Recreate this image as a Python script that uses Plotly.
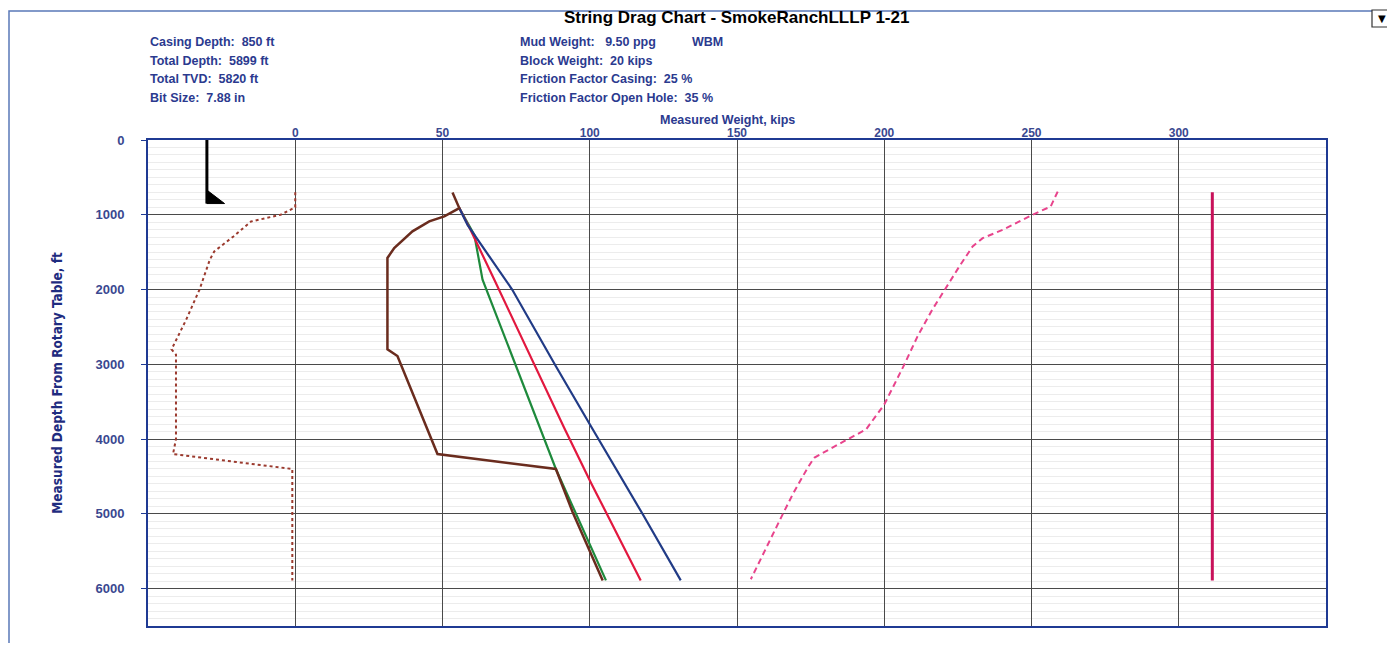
import plotly.graph_objects as go

# ---------------- data ----------------
x_ticks = [0, 50, 100, 150, 200, 250, 300]
y_ticks = [0, 1000, 2000, 3000, 4000, 5000, 6000]

# brown dashed curve (left)
brown_dash_x = [0, 0, -5, -15, -21, -27.5, -29, -32.5, -37, -42, -40.5, -40.5, -41.5, -1, -1]
brown_dash_md = [700, 900, 1000, 1090, 1290, 1490, 1600, 2000, 2400, 2800, 2870, 4000, 4200, 4400, 5890]

# brown solid curve
brown_x = [53.4, 55.7, 50.6, 45.5, 39.8, 33.6, 31.3, 31.3, 34.7, 44.3, 48.3, 88.5, 94.2, 104.4]
brown_md = [703, 911, 1022, 1089, 1222, 1444, 1578, 2800, 2890, 3823, 4200, 4400, 4978, 5890]

# green solid curve
green_x = [55.7, 60.8, 63.6, 83.0, 88.5, 105.5]
green_md = [911, 1268, 1869, 3849, 4400, 5890]

# red solid curve
red_x = [55.7, 59.5, 67.6, 91.3, 100.4, 117.3]
red_md = [911, 1200, 1869, 3849, 4583, 5890]

# blue solid curve
blue_x = [55.7, 58.5, 73.7, 88.5, 100.4, 118.0, 130.9]
blue_md = [911, 1135, 2003, 3026, 3828, 5006, 5890]

# pink dashed curve
pink_x = [258.9, 256.5, 250.3, 240.2, 233.4, 230.0, 225.5, 220.4, 216.3, 211.3, 206.8, 200.0,
          193.8, 186.4, 181.3, 176.2, 174.0, 168.9, 165.5, 161.0, 154.7]
pink_md = [690, 890, 1001, 1202, 1313, 1424, 1691, 2003, 2270, 2626, 3004, 3538,
           3872, 4028, 4139, 4250, 4383, 4740, 5007, 5363, 5874]

# vertical magenta line
vert_x = [311.4, 311.4]
vert_md = [700, 5890]

# casing shoe symbol
casing_line_x = [-30, -30]
casing_line_md = [0, 850]
shoe_x = [-30, -30, -24, -30]
shoe_md = [670, 850, 850, 670]

left_info = ["Casing Depth:  850 ft", "Total Depth:  5899 ft", "Total TVD:  5820 ft", "Bit Size:  7.88 in"]
mid_info = ["Mud Weight:   9.50 ppg", "Block Weight:  20 kips", "Friction Factor Casing:  25 %",
            "Friction Factor Open Hole:  35 %"]

# ---------------- figure ----------------
OFF = 8  # page body margin
W, H = 1395 - OFF, 651 - 2 * OFF
L, R, T, B = 148 - OFF, 1326 - OFF, 140 - OFF, 626 - OFF
pw, ph = R - L, B - T


def px(xr):
    return ((xr - OFF) - L) / pw


def py(yr):
    return (B - (yr - OFF)) / ph


BLUE = "#2B3A8F"
FONT = "Liberation Sans, Arial"
fig = go.Figure()

fig.add_trace(go.Scatter(x=casing_line_x, y=casing_line_md, mode="lines",
                         line=dict(color="black", width=3), hoverinfo="skip"))
fig.add_trace(go.Scatter(x=shoe_x, y=shoe_md, mode="lines", fill="toself", fillcolor="black",
                         line=dict(color="black", width=1), hoverinfo="skip"))
fig.add_trace(go.Scatter(x=brown_dash_x, y=brown_dash_md, mode="lines",
                         line=dict(color="#9B3A2E", width=2, dash="3px,3px")))
fig.add_trace(go.Scatter(x=green_x, y=green_md, mode="lines",
                         line=dict(color="#1E8A3C", width=2.2)))
fig.add_trace(go.Scatter(x=red_x, y=red_md, mode="lines",
                         line=dict(color="#E2183F", width=2.2)))
fig.add_trace(go.Scatter(x=blue_x, y=blue_md, mode="lines",
                         line=dict(color="#213B86", width=2.2)))
fig.add_trace(go.Scatter(x=brown_x, y=brown_md, mode="lines",
                         line=dict(color="#6A2C1E", width=2.5)))
fig.add_trace(go.Scatter(x=pink_x, y=pink_md, mode="lines",
                         line=dict(color="#E8448C", width=2, dash="6px,4px")))
fig.add_trace(go.Scatter(x=vert_x, y=vert_md, mode="lines",
                         line=dict(color="#C8125A", width=3)))

annotations = []
annotations.append(dict(text="<b>String Drag Chart - SmokeRanchLLLP 1-21</b>", x=px(736), y=py(18),
                        xref="paper", yref="paper", showarrow=False, xanchor="center", yanchor="middle",
                        font=dict(family=FONT, size=17, color="black")))
for i, (a, b) in enumerate(zip(left_info, mid_info)):
    yy = py(42 + i * 18.7)
    annotations.append(dict(text="<b>" + a + "</b>", x=px(148), y=yy, xref="paper", yref="paper",
                            showarrow=False, xanchor="left", yanchor="middle",
                            font=dict(family=FONT, size=12.5, color=BLUE)))
    annotations.append(dict(text="<b>" + b + "</b>", x=px(518), y=yy, xref="paper", yref="paper",
                            showarrow=False, xanchor="left", yanchor="middle",
                            font=dict(family=FONT, size=12.5, color=BLUE)))
annotations.append(dict(text="<b>WBM</b>", x=px(690), y=py(42), xref="paper", yref="paper",
                        showarrow=False, xanchor="left", yanchor="middle",
                        font=dict(family=FONT, size=12.5, color=BLUE)))
annotations.append(dict(text="<b>Measured Weight, kips</b>", x=px(727), y=py(120), xref="paper", yref="paper",
                        showarrow=False, xanchor="center", yanchor="middle",
                        font=dict(family=FONT, size=12.5, color=BLUE)))
annotations.append(dict(text="▼", x=px(1381.5), y=py(18.5), xref="paper", yref="paper",
                        showarrow=False, xanchor="center", yanchor="middle",
                        font=dict(family="DejaVu Sans", size=10, color="black")))

shapes = [
    dict(type="rect", xref="paper", yref="paper", x0=px(9), x1=px(1390), y0=py(700), y1=py(11),
         line=dict(color="#5A78B8", width=1.5), layer="below"),
    dict(type="rect", xref="paper", yref="paper", x0=px(1372), x1=px(1391), y0=py(27), y1=py(10),
         line=dict(color="#333", width=1.2), fillcolor="white"),
]

fig.update_layout(
    width=W, height=H, autosize=False,
    margin=dict(l=L, r=W - R, t=T, b=H - B),
    paper_bgcolor="white", plot_bgcolor="white",
    showlegend=False,
    annotations=annotations, shapes=shapes,
    font=dict(family=FONT, color=BLUE),
)
fig.update_xaxes(
    side="top", range=[-50, 350], tickvals=x_ticks, ticktext=[f"<b>{v}</b>" for v in x_ticks],
    showgrid=True, gridcolor="#4a4a4a", gridwidth=1, zeroline=False,
    showline=True, linecolor="#1F3A93", linewidth=2, mirror=True, ticks="",
    ticklabelstandoff=-4,
    tickfont=dict(size=12, color="#3A4890"),
)
fig.update_yaxes(
    range=[6500, 0], tickvals=y_ticks, ticktext=[f"<b>{v}</b>" for v in y_ticks],
    showgrid=True, gridcolor="#4a4a4a", gridwidth=1, zeroline=False,
    showline=True, linecolor="#1F3A93", linewidth=2, mirror=True,
    ticks="outside", ticklen=5, tickcolor="#1F3A93", ticklabelstandoff=14,
    tickfont=dict(size=13, color="#3A4890"),
    minor=dict(dtick=100, showgrid=True, gridcolor="#ececec", gridwidth=1, ticks=""),
    title=dict(text="<b>Measured Depth From Rotary Table, ft</b>",
               font=dict(family="Liberation Sans Narrow, DejaVu Sans Condensed, Arial Narrow", size=13.5,
                         color="#1F2C80"),
               standoff=30),
)

fig.write_html("out.html")
